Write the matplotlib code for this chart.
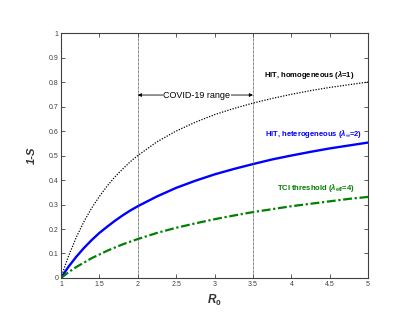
import matplotlib
matplotlib.use("Agg")
import matplotlib.pyplot as plt

plt.rcParams['font.family'] = ['Liberation Sans', 'DejaVu Sans']
plt.rcParams['mathtext.fontset'] = 'custom'
plt.rcParams['mathtext.rm'] = 'Liberation Sans:bold'
plt.rcParams['mathtext.it'] = 'Liberation Sans:italic:bold'
plt.rcParams['mathtext.bf'] = 'Liberation Sans:bold'

# values
r0 = [1, 1.05, 1.1, 1.2, 1.3, 1.4, 1.5, 1.6, 1.7, 1.8, 1.9, 2, 2.25, 2.5, 2.75, 3, 3.25,
      3.5, 3.75, 4, 4.25, 4.5, 4.75, 5]
hit_homog = [0, 0.048, 0.091, 0.167, 0.231, 0.286, 0.333, 0.375, 0.412, 0.444, 0.474, 0.5,
             0.556, 0.6, 0.636, 0.667, 0.692, 0.714, 0.733, 0.75, 0.765, 0.778, 0.789, 0.8]
hit_heter = [0, 0.024, 0.047, 0.087, 0.123, 0.155, 0.184, 0.209, 0.233, 0.255, 0.275, 0.293,
             0.333, 0.368, 0.397, 0.423, 0.445, 0.465, 0.484, 0.5, 0.515, 0.529, 0.541, 0.553]
tci = [0, 0.012, 0.024, 0.045, 0.063, 0.081, 0.096, 0.111, 0.124, 0.137, 0.148, 0.159,
       0.184, 0.205, 0.223, 0.240, 0.255, 0.269, 0.281, 0.293, 0.303, 0.313, 0.323, 0.331]
covid_range = [2, 3.5]
xticks = [1, 1.5, 2, 2.5, 3, 3.5, 4, 4.5, 5]
xtick_labels = ['1', '1.5', '2', '2.5', '3', '3.5', '4', '4.5', '5']
yticks = [0, 0.1, 0.2, 0.3, 0.4, 0.5, 0.6, 0.7, 0.8, 0.9, 1]
ytick_labels = ['0', '0.1', '0.2', '0.3', '0.4', '0.5', '0.6', '0.7', '0.8', '0.9', '1']

fig = plt.figure(figsize=(4.15, 3.21), dpi=100)
ax = fig.add_axes([0.147, 0.134, 0.740, 0.763])

ax.plot(r0, hit_homog, color='black', linestyle=(0, (1, 1.2)), linewidth=0.9)
ax.plot(r0, hit_heter, color='#0000ff', linewidth=1.7)
ax.plot(r0, tci, color='#008000', linestyle=(0, (4, 1.2, 1, 1.2)), linewidth=1.6)

for xv in covid_range:
    ax.axvline(xv, color='#555555', linestyle=(0, (1, 0.6)), linewidth=0.6)

ax.annotate('', xy=(covid_range[0], 0.747), xytext=(covid_range[1], 0.747),
            arrowprops=dict(arrowstyle='<|-|>', color='black', lw=0.6,
                            mutation_scale=5, shrinkA=0, shrinkB=0))
ax.text(2.77, 0.747, 'COVID-19 range', ha='center', va='center', fontsize=6.5,
        bbox=dict(facecolor='white', edgecolor='none', pad=0.5))

ax.text(4.82, 0.83, r'HIT, homogeneous ($\lambda$=1)', ha='right', va='center',
        fontsize=5.5, fontweight='bold', color='black')
ax.text(4.92, 0.588, r'HIT, heterogeneous ($\lambda_{\infty}$=2)', ha='right', va='center',
        fontsize=5.5, fontweight='bold', color='#0000ff')
ax.text(4.82, 0.367, r'TCI threshold ($\lambda_{\mathrm{eff}}$=4)', ha='right', va='center',
        fontsize=5.5, fontweight='bold', color='#008000')

ax.set_xlim(1, 5)
ax.set_ylim(0, 1)
ax.set_xticks(xticks)
ax.set_xticklabels(xtick_labels)
ax.set_yticks(yticks)
ax.set_yticklabels(ytick_labels)
ax.tick_params(direction='in', length=3, width=0.6, colors='#404040', labelsize=5,
               top=True, right=True, pad=2)
for sp in ax.spines.values():
    sp.set_color('#404040')
    sp.set_linewidth(0.8)

ax.set_xlabel(r'$R_0$', fontsize=8.5, color='#333333', labelpad=4)
ax.set_ylabel('1-S', fontsize=8, fontweight='bold', fontstyle='italic', color='#333333',
              labelpad=8)

fig.savefig('out.png', dpi=100)
